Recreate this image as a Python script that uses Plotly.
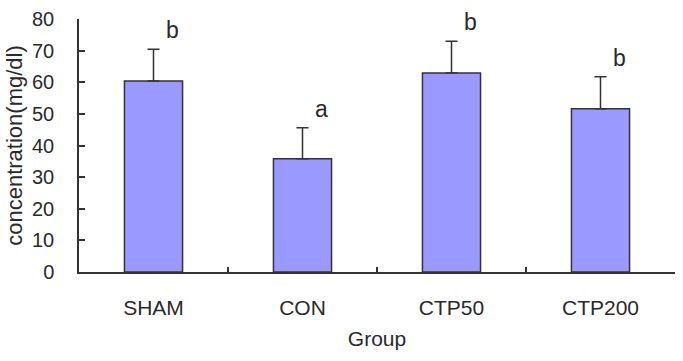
import plotly.graph_objects as go

groups = ["SHAM", "CON", "CTP50", "CTP200"]
means = [60.4, 35.8, 62.9, 51.6]
sds = [10.0, 9.8, 10.1, 10.1]
letters = ["b", "a", "b", "b"]

FONT = "Liberation Sans, Arial, sans-serif"

fig = go.Figure()
fig.add_trace(go.Bar(
    x=groups, y=means,
    marker=dict(color="#9999FF", line=dict(color="#333333", width=1.5)),
    error_y=dict(type="data", array=sds, symmetric=False, arrayminus=[0]*4,
                 color="#333333", thickness=1.5, width=6),
    width=0.39,
))

for g, m, s, l in zip(groups, means, sds, letters):
    fig.add_annotation(x=g, y=m + s, text=l, showarrow=False, xref="x", yref="y",
                       xshift=19, yshift=19, font=dict(size=23, color="#2a2a2a", family=FONT))

fig.update_layout(
    width=683, height=361,
    margin=dict(l=79, r=8, t=11, b=89),
    paper_bgcolor="white", plot_bgcolor="white",
    showlegend=False,
    font=dict(family=FONT, size=20, color="#2a2a2a"),
)
fig.update_xaxes(
    showline=True, linecolor="#333333", linewidth=1.5,
    ticks="inside", tickson="boundaries", ticklen=5, tickcolor="#333333", tickwidth=1.5,
    showgrid=False, title=dict(text="Group", standoff=13, font=dict(size=21)),
    tickfont=dict(size=21), ticklabelstandoff=16,
)
fig.update_yaxes(
    range=[0, 80], dtick=10, showline=True, linecolor="#333333", linewidth=1.5,
    ticks="inside", ticklen=6, tickcolor="#333333", tickwidth=1.5,
    showgrid=False, zeroline=False,
    title=dict(text="concentration(mg/dl)", standoff=3, font=dict(size=22)),
    tickfont=dict(size=20), ticklabelstandoff=19,
)

fig.write_html("out.html")
